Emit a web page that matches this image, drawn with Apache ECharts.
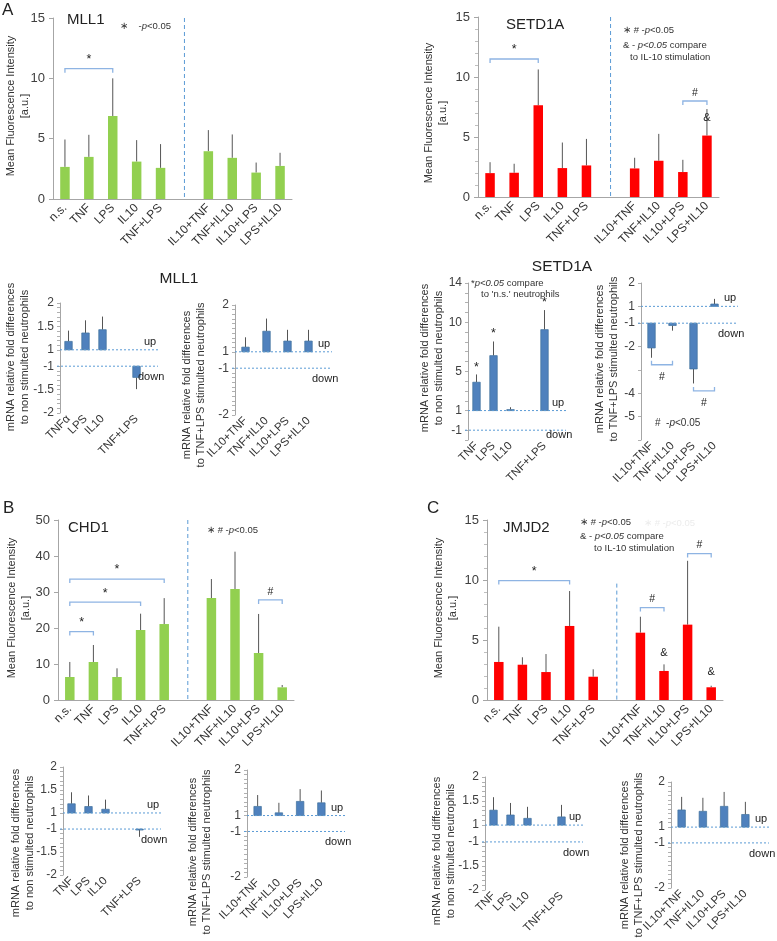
<!DOCTYPE html>
<html>
<head>
<meta charset="utf-8">
<script src="https://cdn.jsdelivr.net/npm/echarts@6/dist/echarts.min.js"></script>
<style>
html, body { margin: 0; padding: 0; background: #fff; }
#fig { width: 777px; height: 941px; }
</style>
</head>
<body>
<div id="fig"></div>
<script>
// ---- values ----
var stimCats = ['n.s.', 'TNF', 'LPS', 'IL10', 'TNF+LPS', '', 'IL10+TNF', 'TNF+IL10', 'IL10+LPS', 'LPS+IL10'];

var mll1Mean = [2.66, 3.49, 6.88, 3.10, 2.58, null, 3.96, 3.41, 2.19, 2.74];
var mll1Sd = [2.27, 1.83, 3.12, 1.78, 1.97, null, 1.75, 1.94, 0.83, 1.09];
var setd1aMean = [1.99, 2.02, 7.64, 2.41, 2.63, null, 2.38, 3.02, 2.08, 5.12];
var setd1aSd = [0.91, 0.75, 2.99, 2.13, 2.21, null, 0.89, 2.24, 1.02, 2.21];
var chd1Mean = [6.39, 10.56, 6.39, 19.44, 21.1, null, 28.3, 30.8, 13.06, 3.52];
var chd1Sd = [4.17, 4.72, 2.41, 4.54, 7.2, null, 5.3, 10.4, 10.84, 0.65];
var jmjd2Mean = [3.17, 2.94, 2.33, 6.17, 1.94, null, 5.61, 2.42, 6.28, 1.06];
var jmjd2Sd = [2.94, 0.62, 1.5, 2.91, 0.62, null, 1.33, 0.55, 5.32, 0.13];

var mfiTicks15 = ['0', '5', '10', '15'];
var mfiTicks50 = ['0', '10', '20', '30', '40', '50'];

var leftCatsA = ['TNFα', 'LPS', 'IL10', '', 'TNF+LPS'];
var leftCats = ['TNF', 'LPS', 'IL10', '', 'TNF+LPS'];
var rightCats = ['IL10+TNF', 'TNF+IL10', 'IL10+LPS', 'LPS+IL10'];
var foldTicksFine = ['2', '1.5', '1', '-1', '-1.5', '-2'];
var foldTicks = ['2', '1', '-1', '-2'];
var setd1aLeftTicks = ['14', '10', '5', '1', '-1'];
var setd1aRightTicks = ['2', '1', '-1', '-2', '-4', '-5'];

var mll1FoldL = [1.18, 1.36, 1.43, null, -1.24];
var mll1FoldLSd = [0.23, 0.27, 0.28, null, 0.25];
var mll1FoldR = [1.10, 1.44, 1.23, 1.23];
var mll1FoldRSd = [0.21, 0.27, 0.24, 0.24];
var setd1aFoldL = [3.89, 6.6, 1.1, null, 9.25];
var setd1aFoldLSd = [0.79, 1.44, 0.24, null, 1.99];
var setd1aFoldR = [-2.06, -1.1, -2.96, 1.1];
var setd1aFoldRSd = [0.42, 0.22, 0.62, 0.22];
var chd1FoldL = [1.2, 1.14, 1.08, null, -1.02];
var chd1FoldLSd = [0.25, 0.24, 0.21, null, 0.15];
var chd1FoldR = [1.2, 1.06, 1.31, 1.28];
var chd1FoldRSd = [0.25, 0.22, 0.27, 0.27];
var jmjd2FoldL = [1.31, 1.21, 1.14, null, 1.17];
var jmjd2FoldLSd = [0.27, 0.25, 0.24, null, 0.25];
var jmjd2FoldR = [1.38, 1.35, 1.46, 1.28];
var jmjd2FoldRSd = [0.29, 0.30, 0.32, 0.28];

// significance brackets: [from, to, level, sign]; marks: [index, level, sign]
var mll1Sig = [[0, 2, 10.8, '*']];
var setd1aSig = [[0, 2, 11.5, '*'], [8, 9, 8.0, '#']];
var setd1aAmp = [[9, 6.6, '&']];
var chd1Sig = [[0, 1, 19, '*'], [0, 3, 27.2, '*'], [0, 4, 33.6, '*'], [8, 9, 27.8, '#']];
var jmjd2Sig = [[0, 3, 9.95, '*'], [6, 7, 7.7, '#'], [8, 9, 12.2, '#']];
var jmjd2Amp = [[7, 3.95, '&'], [9, 2.35, '&']];
var setd1aFoldLStars = [[0, 5.4, '*'], [1, 8.8, '*'], [4, 12.0, '*']];
var setd1aFoldRSig = [[0, 1, -2.78, '#'], [2, 3, -3.9, '#']];

var FONT = "'Liberation Sans', Arial, sans-serif";
var GREEN = '#92d050', RED = '#ff0000', BLUE = '#4f81bd';
var DASH = '#5b9bd5', BRACKET = '#8eb4e3';

var panels = [
  { kind: 'mfi', left: 53, top: 18, width: 239, height: 181, cats: stimCats, mean: mll1Mean, sd: mll1Sd, ticks: mfiTicks15, color: GREEN, minor: false, divTop: 15, sig: mll1Sig, marks: [] },
  { kind: 'mfi', left: 478, top: 17, width: 241, height: 180, cats: stimCats, mean: setd1aMean, sd: setd1aSd, ticks: mfiTicks15, color: RED, minor: true, divTop: 15, sig: setd1aSig, marks: setd1aAmp },
  { kind: 'mfi', left: 58, top: 520, width: 236, height: 180, cats: stimCats, mean: chd1Mean, sd: chd1Sd, ticks: mfiTicks50, color: GREEN, minor: false, divTop: 50, sig: chd1Sig, marks: [] },
  { kind: 'mfi', left: 487, top: 520, width: 236, height: 180, cats: stimCats, mean: jmjd2Mean, sd: jmjd2Sd, ticks: mfiTicks15, color: RED, minor: true, divTop: 9.7, sig: jmjd2Sig, marks: jmjd2Amp },
  { kind: 'fold', left: 60, top: 303, width: 85, height: 110, cats: leftCatsA, mean: mll1FoldL, sd: mll1FoldLSd, ticks: foldTicksFine, gap: 0.35, lo: -2, hi: 2, step: 0.1, sig: [], marks: [] },
  { kind: 'fold', left: 235, top: 305, width: 84, height: 110, cats: rightCats, mean: mll1FoldR, sd: mll1FoldRSd, ticks: foldTicks, gap: 0.35, lo: -2, hi: 2, step: 0.1, sig: [], marks: [] },
  { kind: 'fold', left: 468, top: 283, width: 85, height: 157, cats: leftCats, mean: setd1aFoldL, sd: setd1aFoldLSd, ticks: setd1aLeftTicks, gap: 2, lo: -2, hi: 14, step: 1, sig: [], marks: setd1aFoldLStars, downDy: 5 },
  { kind: 'fold', left: 641, top: 283, width: 84, height: 157, cats: rightCats, mean: setd1aFoldR, sd: setd1aFoldRSd, ticks: setd1aRightTicks, gap: 0.72, lo: -6, hi: 2, step: 1, sig: setd1aFoldRSig, marks: [], below: true },
  { kind: 'fold', left: 63, top: 767, width: 85, height: 108, cats: leftCats, mean: chd1FoldL, sd: chd1FoldLSd, ticks: foldTicksFine, gap: 0.35, lo: -2, hi: 2, step: 0.1, sig: [], marks: [] },
  { kind: 'fold', left: 247, top: 770, width: 85, height: 107, cats: rightCats, mean: chd1FoldR, sd: chd1FoldRSd, ticks: foldTicks, gap: 0.35, lo: -2, hi: 2, step: 0.1, sig: [], marks: [] },
  { kind: 'fold', left: 485, top: 777, width: 85, height: 113, cats: leftCats, mean: jmjd2FoldL, sd: jmjd2FoldLSd, ticks: foldTicksFine, gap: 0.35, lo: -2, hi: 2, step: 0.1, sig: [], marks: [] },
  { kind: 'fold', left: 671, top: 782, width: 85, height: 106, cats: rightCats, mean: jmjd2FoldR, sd: jmjd2FoldRSd, ticks: foldTicks, gap: 0.35, lo: -2, hi: 2, step: 0.1, sig: [], marks: [] }
];

// fold changes skip the band between -1 and 1
function disp(v, gap) {
  return v >= 0 ? v - 1 + gap / 2 : v + 1 - gap / 2;
}

function txt(text, x, y, size, align) {
  return {
    type: 'text', x: x, y: y, silent: true,
    style: {
      text: text, fill: '#222', fontSize: size, fontFamily: FONT,
      align: align || 'center', verticalAlign: 'middle',
      textAlign: align || 'center', textVerticalAlign: 'middle'
    }
  };
}

function barRender(p) {
  var bw = p.kind === 'mfi' ? 9.5 : 7.5;
  return function (params, api) {
    var i = api.value(0);
    var p0 = api.coord([i, api.value(3)]);
    var p1 = api.coord([i, api.value(1)]);
    var p2 = api.coord([i, api.value(2)]);
    return {
      type: 'group',
      children: [
        { type: 'line', shape: { x1: p1[0], y1: p1[1], x2: p2[0], y2: p2[1] }, style: { stroke: '#555', lineWidth: 1 } },
        {
          type: 'rect',
          shape: { x: p0[0] - bw / 2, y: Math.min(p0[1], p1[1]), width: bw, height: Math.max(1, Math.abs(p1[1] - p0[1])) },
          style: p.kind === 'mfi' ? { fill: p.color } : { fill: BLUE, stroke: '#41719c', lineWidth: 0.7 }
        }
      ]
    };
  };
}

function decoRender(p) {
  return function (params, api) {
    var cs = params.coordSys;
    var kids = [];
    var yOf = function (v) {
      return api.coord([0, p.kind === 'mfi' ? v : disp(v, p.gap)])[1];
    };
    if (p.kind === 'mfi') {
      var a = api.coord([5, p.divTop]), b = api.coord([5, 0]);
      kids.push({ type: 'line', shape: { x1: a[0], y1: a[1], x2: b[0], y2: b[1] }, style: { stroke: DASH, lineWidth: 1, lineDash: [4, 3] } });
    } else {
      var end = cs.x + cs.width + 13;
      var yUp = yOf(1), yDown = yOf(-1);
      kids.push({ type: 'line', shape: { x1: cs.x, y1: yUp, x2: end, y2: yUp }, style: { stroke: DASH, lineWidth: 1, lineDash: [2, 2] } });
      kids.push({ type: 'line', shape: { x1: cs.x - 3, y1: yDown, x2: end, y2: yDown }, style: { stroke: DASH, lineWidth: 1, lineDash: [2, 2] } });
      kids.push(txt('up', end - 14, yUp - 8, 11, 'left'));
      kids.push(txt('down', end - 20, yDown + (p.downDy || 11), 11, 'left'));
    }
    p.sig.forEach(function (s) {
      var y = yOf(s[2]);
      var x1 = api.coord([s[0], 0])[0], x2 = api.coord([s[1], 0])[0];
      var t = p.below ? -4 : 4;
      kids.push({ type: 'polyline', shape: { points: [[x1, y + t], [x1, y], [x2, y], [x2, y + t]] }, style: { stroke: BRACKET, lineWidth: 1.3, fill: null } });
      kids.push(txt(s[3], (x1 + x2) / 2, p.below ? y + 12 : y - (s[3] === '*' ? 9 : 8), s[3] === '*' ? 12.5 : 10.5));
    });
    p.marks.forEach(function (m) {
      kids.push(txt(m[2], api.coord([m[0], 0])[0], yOf(m[1]), m[2] === '*' ? 12.5 : 11));
    });
    return { type: 'group', children: kids };
  };
}

var grids = [], xAxes = [], yAxes = [], series = [];
panels.forEach(function (p, k) {
  grids.push({ left: p.left, top: p.top, width: p.width, height: p.height, containLabel: false, outerBoundsMode: 'none' });
  xAxes.push({
    type: 'category', gridIndex: k, data: p.cats,
    axisTick: { show: false },
    axisLine: { show: p.kind === 'mfi', lineStyle: { color: '#a6a6a6' } },
    axisLabel: { rotate: 45, interval: 0, fontSize: p.kind === 'mfi' ? 12 : 11.5, color: '#333', margin: p.kind === 'mfi' ? 7 : 4, fontFamily: FONT }
  });
  var barData = [];
  if (p.kind === 'mfi') {
    var tv = p.ticks.map(Number);
    yAxes.push({
      type: 'value', gridIndex: k, min: 0, max: tv[tv.length - 1], interval: tv[1] - tv[0],
      axisLine: { show: true, lineStyle: { color: '#a6a6a6' } },
      axisTick: { show: true, length: 4, lineStyle: { color: '#a6a6a6' } },
      minorTick: { show: p.minor, splitNumber: 5, length: 3, lineStyle: { color: '#bfbfbf' } },
      splitLine: { show: false },
      axisLabel: { fontSize: 13, color: '#404040', margin: 8, fontFamily: FONT }
    });
    p.mean.forEach(function (v, i) {
      if (v != null) barData.push([i, v, v + p.sd[i], 0]);
    });
  } else {
    var lab = {};
    var labVals = p.ticks.map(function (t) {
      var d = disp(Number(t), p.gap);
      lab[d.toFixed(3)] = t;
      return d;
    });
    var tickVals = [];
    var nUp = Math.round((p.hi - 1) / p.step), nDn = Math.round((-1 - p.lo) / p.step);
    for (var j = 0; j <= nUp; j++) tickVals.push(disp(1 + j * p.step, p.gap));
    for (j = 0; j <= nDn; j++) tickVals.push(disp(-1 - j * p.step, p.gap));
    yAxes.push({
      type: 'value', gridIndex: k, min: disp(p.lo, p.gap), max: disp(p.hi, p.gap),
      axisLine: { show: true, lineStyle: { color: '#a6a6a6' } },
      axisTick: { show: true, length: 3, customValues: tickVals, lineStyle: { color: '#b0b0b0' } },
      splitLine: { show: false },
      axisLabel: {
        customValues: labVals, fontSize: 12, color: '#404040', margin: 6, fontFamily: FONT,
        formatter: function (v) { return lab[v.toFixed(3)] || ''; }
      }
    });
    p.mean.forEach(function (v, i) {
      if (v == null) return;
      var s = v > 0 ? 1 : -1;
      barData.push([i, disp(v, p.gap), disp(v + s * p.sd[i], p.gap), disp(s, p.gap)]);
    });
  }
  series.push({
    type: 'custom', xAxisIndex: k, yAxisIndex: k, renderItem: barRender(p),
    encode: { x: 0, y: 1 }, data: barData, silent: true, clip: false
  });
  series.push({
    type: 'custom', xAxisIndex: k, yAxisIndex: k, renderItem: decoRender(p),
    data: [[0, 0]], silent: true, clip: false, z: 5
  });
});

function rich(text, x, y, size, color) {
  var c = color || '#333';
  var el = txt(text, x, y, size, 'left');
  el.style.fill = c;
  el.style.rich = { i: { fontStyle: 'italic', fontSize: size, fontFamily: FONT, fill: c } };
  return el;
}

function vtitle(text, x, y) {
  var el = txt(text, x, y, 11, 'center');
  el.rotation = Math.PI / 2;
  el.style.lineHeight = 13.5;
  el.style.fill = '#333';
  return el;
}

var graphics = [
  txt('A', 2, 10, 17, 'left'), txt('B', 3, 508, 17, 'left'), txt('C', 427, 508, 17, 'left'),
  txt('MLL1', 67, 20, 15, 'left'), txt('SETD1A', 506, 25, 15, 'left'),
  txt('MLL1', 179, 279, 15.5), txt('SETD1A', 562, 267, 15.5),
  txt('CHD1', 68, 528, 15, 'left'), txt('JMJD2', 503, 528, 15, 'left'),
  rich('∗    -{i|p}<0.05', 120, 26, 9.5),
  rich('∗ # -{i|p}<0.05', 623, 30, 9.5),
  rich('& - {i|p<0.05} compare', 623, 45, 9.5),
  rich('to IL-10 stimulation', 630, 57, 9.5),
  rich('*{i|p<0.05} compare', 471, 283, 9.5),
  rich("to 'n.s.' neutrophils", 481, 294, 9.5),
  rich('#  -{i|p}<0.05', 655, 423, 10),
  rich('∗ # -{i|p}<0.05', 207, 530, 9.5),
  rich('∗ # -{i|p}<0.05', 644, 523, 9.5, '#ececec'),
  rich('∗ # -{i|p}<0.05', 580, 522, 9.5),
  rich('& - {i|p<0.05} compare', 580, 536, 9.5),
  rich('to IL-10 stimulation', 594, 548, 9.5),
  vtitle('Mean Fluorescence Intensity\n[a.u.]', 18, 106),
  vtitle('Mean Fluorescence Intensity\n[a.u.]', 436, 113),
  vtitle('Mean Fluorescence Intensity\n[a.u.]', 19, 608),
  vtitle('Mean Fluorescence Intensity\n[a.u.]', 446, 608),
  vtitle('mRNA relative fold differences\nto non stimulted neutrophils', 18, 357),
  vtitle('mRNA relative fold differences\nto TNF+LPS stimulted neutrophils', 194, 385),
  vtitle('mRNA relative fold differences\nto non stimulted neutrophils', 432, 358),
  vtitle('mRNA relative fold differences\nto TNF+LPS stimulted neutrophils', 607, 359),
  vtitle('mRNA relative fold differences\nto non stimulted neutrophils', 23, 843),
  vtitle('mRNA relative fold differences\nto TNF+LPS stimulted neutrophils', 200, 852),
  vtitle('mRNA relative fold differences\nto non stimulted neutrophils', 444, 851),
  vtitle('mRNA relative fold differences\nto TNF+LPS stimulted neutrophils', 632, 855)
];

var chart = echarts.init(document.getElementById('fig'), null, { renderer: 'canvas' });
chart.setOption({
  animation: false,
  backgroundColor: '#fff',
  textStyle: { fontFamily: FONT },
  grid: grids,
  xAxis: xAxes,
  yAxis: yAxes,
  series: series,
  graphic: { elements: graphics }
});
</script>
</body>
</html>
